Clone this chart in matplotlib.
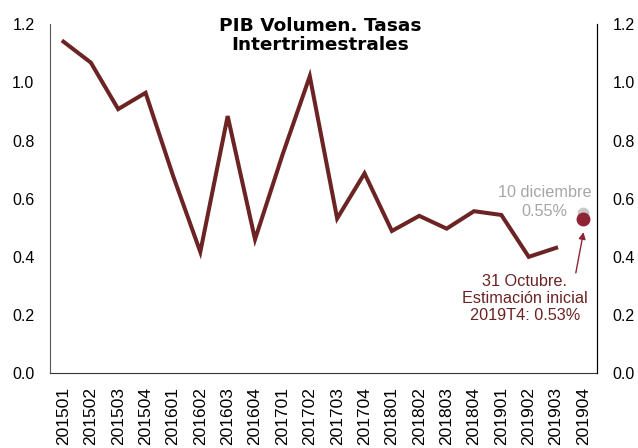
import numpy as np
import matplotlib.pyplot as plt

quarters = ["201501", "201502", "201503", "201504", "201601", "201602", "201603",
            "201604", "201701", "201702", "201703", "201704", "201801", "201802",
            "201803", "201804", "201901", "201902", "201903", "201904"]
pib = [1.14, 1.068, 0.908, 0.964, 0.68, 0.417, 0.884, 0.46, 0.75, 1.021,
       0.532, 0.687, 0.489, 0.541, 0.497, 0.557, 0.544, 0.40, 0.431]
est_octubre = 0.53
est_diciembre = 0.55

line_color = "#6b2323"
dot_red = "#8e2434"
grey = "#a6a6a6"

plt.rcParams['font.family'] = ['Liberation Sans', 'DejaVu Sans']

fig = plt.figure(figsize=(6.38, 4.48), dpi=100)
ax = fig.add_axes([0.078, 0.167, 0.858, 0.779])

x = np.arange(len(quarters)) + 0.5
ax.plot(x[:len(pib)], pib, color=line_color, lw=2.9, solid_joinstyle='miter')
ax.plot(x[-1], est_diciembre, 'o', color="#c8c8c8", ms=7.5, zorder=3)
ax.plot(x[-1], est_octubre, 'o', color=dot_red, ms=9, zorder=4)

ax.set_xlim(0, len(quarters))
ax.set_ylim(0, 1.2)
ax.set_yticks(np.arange(0, 1.21, 0.2))
ax.yaxis.set_major_formatter(plt.FormatStrFormatter('%.1f'))
ax.set_xticks(x)
ax.set_xticklabels(quarters, rotation=90, fontsize=12.5)
ax.tick_params(axis='y', length=0, labelsize=11.5, pad=11)
ax.tick_params(axis='x', length=0, pad=10)

ax2 = ax.twinx()
ax2.set_ylim(0, 1.2)
ax2.set_yticks(np.arange(0, 1.21, 0.2))
ax2.yaxis.set_major_formatter(plt.FormatStrFormatter('%.1f'))
ax2.tick_params(axis='y', length=0, labelsize=11.5, pad=11)

for a in (ax, ax2):
    a.spines['top'].set_visible(False)
ax.spines['left'].set_color('#595959')
ax.spines['bottom'].set_color('#333333')
ax2.spines['right'].set_color('black')
ax2.spines['left'].set_visible(False)
ax2.spines['bottom'].set_visible(False)

fig.text(0.502, 0.962, "PIB Volumen. Tasas\nIntertrimestrales", ha='center', va='top',
         fontsize=13.3, fontweight='bold', family='DejaVu Sans', linespacing=1.1)

ax.text(x[-1] - 1.43, est_diciembre - 0.02, "10 diciembre\n0.55%", color=grey,
        ha='center', va='bottom', fontsize=11.7, linespacing=1.3)
ax.text(x[-1] - 2.14, 0.34, "31 Octubre.\nEstimación inicial\n2019T4: 0.53%",
        ha='center', va='top', fontsize=11.7, color=line_color, linespacing=1.15)
ax.annotate("", xy=(x[-1], 0.485), xytext=(x[-1] - 0.28, 0.345),
            arrowprops=dict(arrowstyle='-|>', color=dot_red, lw=1,
                            shrinkA=0, shrinkB=0, mutation_scale=10))

fig.savefig("out.png", dpi=100)
